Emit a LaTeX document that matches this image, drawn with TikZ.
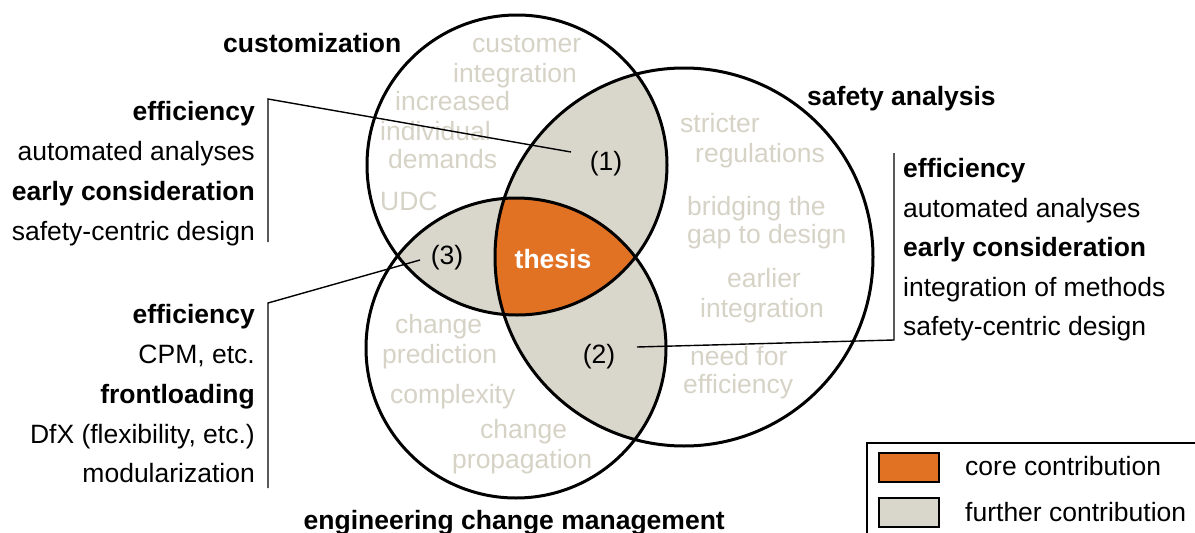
\documentclass[tikz,border=0pt]{standalone}
\usepackage{fontspec}
\setmainfont{Liberation Sans}
\definecolor{corecol}{RGB}{226,114,35}
\definecolor{furthercol}{RGB}{217,215,204}
\definecolor{softtext}{RGB}{214,211,198}
\begin{document}
\begin{tikzpicture}[x=1pt,y=-1pt,
  txt/.style={inner sep=0pt, font=\fontsize{26.5}{30}\selectfont},
  boldtxt/.style={inner sep=0pt, font=\fontsize{26.5}{30}\selectfont\bfseries},
  soft/.style={txt, text=softtext, anchor=base west},
  ring/.style={line width=3pt, draw=black},
  link/.style={line width=1.4pt, draw=black},
  swatch/.style={draw=black, line width=2pt, minimum width=60pt, minimum height=29pt, inner sep=0pt},
]
\def\cA{(517,165) circle[radius=150pt]}
\def\cB{(684,257) circle[radius=189pt]}
\def\cC{(516,348) circle[radius=150pt]}
\useasboundingbox (0,0) rectangle (1195,533);
\clip (0,0) rectangle (1195,533);
\fill[white] (0,0) rectangle (1195,533);

% region fills
\begin{scope}\clip \cA; \fill[furthercol] \cB; \fill[furthercol] \cC; \end{scope}
\begin{scope}\clip \cB; \fill[furthercol] \cC; \end{scope}
\begin{scope}\clip \cA; \clip \cB; \fill[corecol] \cC; \end{scope}

% soft texts in circles
\node[soft] (t1) at (472,52) {customer};
\node[soft] (t2) at (453,82) {integration};
\node[soft] (t3) at (395,110) {increased};
\node[soft] (t4) at (380,140) {individual};
\node[soft] (t5) at (388,168) {demands};
\node[soft] (t6) at (380,210) {UDC};
\node[soft] (t7) at (680,132) {stricter};
\node[soft] (t8) at (695,162) {regulations};
\node[soft] (t9) at (687,215) {bridging the};
\node[soft] (t10) at (687,243) {gap to design};
\node[soft] (t11) at (727,287) {earlier};
\node[soft] (t12) at (700,317) {integration};
\node[soft] (t13) at (690,365) {need for};
\node[soft] (t14) at (683,393) {efficiency};
\node[soft] (t15) at (395,333) {change};
\node[soft] (t16) at (382,363) {prediction};
\node[soft] (t17) at (390,403) {complexity};
\node[soft] (t18) at (480,438) {change};
\node[soft] (t19) at (452,468) {propagation};

% circles
\draw[ring] \cA;
\draw[ring] \cB;
\draw[ring] \cC;

% labels inside
\node[txt, anchor=base] (n1) at (606,170) {(1)};
\node[txt, anchor=base] (n2) at (599,363) {(2)};
\node[txt, anchor=base] (n3) at (447,264) {(3)};
\node[boldtxt, text=white, anchor=base] (thesis) at (553,268) {thesis};

% titles
\node[boldtxt, anchor=base west] (custom) at (223,52) {customization};
\node[boldtxt, anchor=base west] (safety) at (807,105) {safety analysis};
\node[boldtxt, anchor=base east] (ecm) at (725,529) {engineering change management};

% left block 1
\node[boldtxt, anchor=base east] (a1) at (255,120) {efficiency};
\node[txt, anchor=base east] (a2) at (255,160) {automated analyses};
\node[boldtxt, anchor=base east] (a3) at (255,200) {early consideration};
\node[txt, anchor=base east] (a4) at (255,240) {safety-centric design};

% left block 2
\node[boldtxt, anchor=base east] (c1) at (255,323) {efficiency};
\node[txt, anchor=base east] (c2) at (255,363) {CPM, etc.};
\node[boldtxt, anchor=base east] (c3) at (255,403) {frontloading};
\node[txt, anchor=base east] (c4) at (255,443) {DfX (flexibility, etc.)};
\node[txt, anchor=base east] (c5) at (255,482) {modularization};

% right block
\node[boldtxt, anchor=base west] (b1) at (903,177) {efficiency};
\node[txt, anchor=base west] (b2) at (903,217) {automated analyses};
\node[boldtxt, anchor=base west] (b3) at (903,256) {early consideration};
\node[txt, anchor=base west] (b4) at (903,296) {integration of methods};
\node[txt, anchor=base west] (b5) at (903,335) {safety-centric design};

% brackets / connectors
\coordinate (k1top) at (268,99);
\coordinate (k1bot) at (268,242);
\coordinate (k1end) at (571,152);
\draw[link] (k1bot) -- (k1top) -- (k1end);

\coordinate (k3top) at (268,303);
\coordinate (k3bot) at (268,488);
\coordinate (k3end) at (420,260);
\draw[link] (k3bot) -- (k3top) -- (k3end);

\coordinate (k2top) at (894,153);
\coordinate (k2bot) at (894,340);
\coordinate (k2end) at (637,347);
\draw[link] (k2top) -- (k2bot) -- (k2end);

% legend
\draw[line width=1.3pt] (867,443) rectangle (1210,545);
\node[swatch, fill=corecol, anchor=north west] (sw1) at (878,452) {};
\node[swatch, fill=furthercol, anchor=north west] (sw2) at (878,497) {};
\node[txt, anchor=base west] (lg1) at (965,475) {core contribution};
\node[txt, anchor=base west] (lg2) at (965,521) {further contribution};
\end{tikzpicture}
\end{document}
